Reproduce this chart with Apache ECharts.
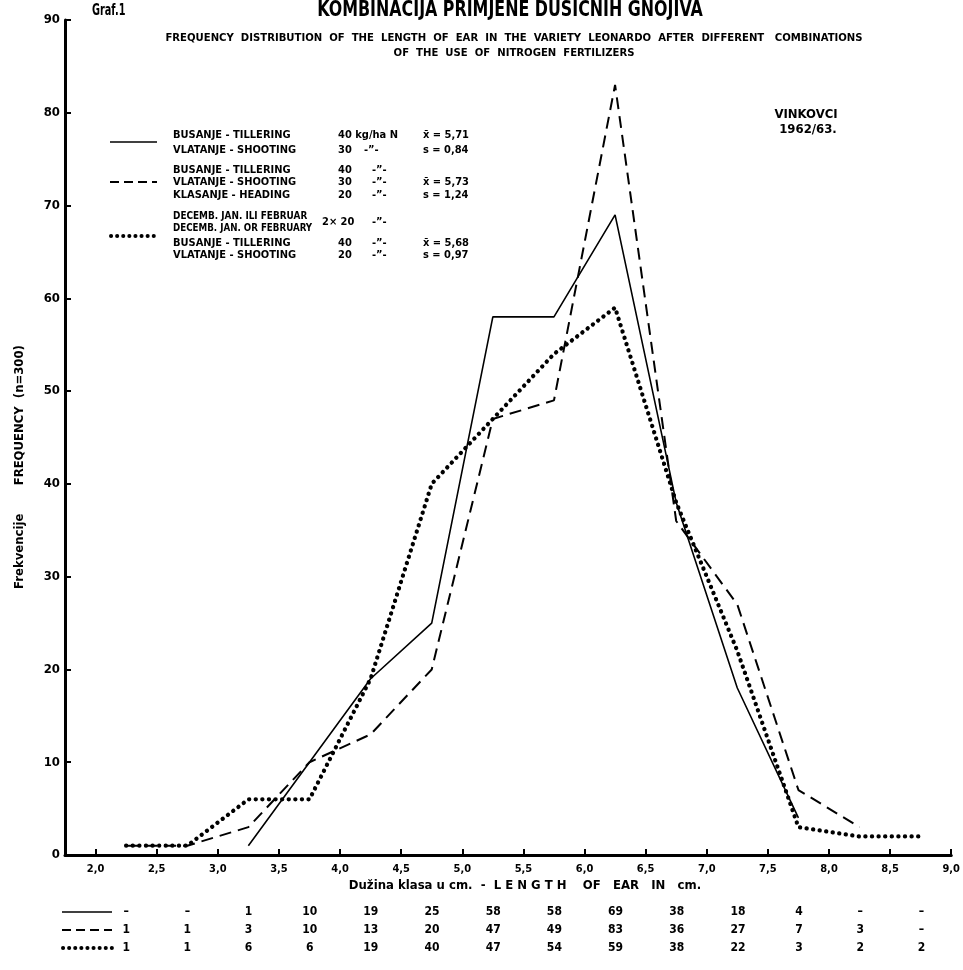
<!DOCTYPE html>
<html>
<head>
<meta charset="utf-8">
<script src="https://cdn.jsdelivr.net/npm/echarts@6/dist/echarts.min.js"></script>
<style>
html,body{margin:0;padding:0;background:#fff;}
#c{width:963px;height:970px;}
</style>
</head>
<body>
<div id="c"></div>
<script>
// ---- data ----
var classMids = [2.25, 2.75, 3.25, 3.75, 4.25, 4.75, 5.25, 5.75, 6.25, 6.75, 7.25, 7.75, 8.25, 8.75];
var xTicks = [2.0, 2.5, 3.0, 3.5, 4.0, 4.5, 5.0, 5.5, 6.0, 6.5, 7.0, 7.5, 8.0, 8.5, 9.0];
var yTicks = [0, 10, 20, 30, 40, 50, 60, 70, 80, 90];
var solidVals  = [null, null, 1, 10, 19, 25, 58, 58, 69, 38, 18, 4, null, null];
var dashedVals = [1, 1, 3, 10, 13, 20, 47, 49, 83, 36, 27, 7, 3, null];
var dottedVals = [1, 1, 6, 6, 19, 40, 47, 54, 59, 38, 22, 3, 2, 2];
var tableRows = ['solid', 'dashed', 'dotted'];

var FN = "'DejaVu Sans Condensed', 'DejaVu Sans', sans-serif";

function pts(vals) {
  return classMids.map(function (m, i) { return [m, vals[i]]; });
}
function tablePts(vals, row) {
  return classMids.map(function (m, i) { return [m, row, vals[i] == null ? '\u2013' : String(vals[i])]; });
}
function fmt(v) { return v.toFixed(1).replace('.', ','); }

var chart = echarts.init(document.getElementById('c'), null, {renderer: 'canvas'});

function txt(x, y, s, size, opts) {
  opts = opts || {};
  return {
    type: 'text', x: x, y: y, rotation: opts.rotation || 0, scaleX: opts.sx || 1, silent: true,
    style: {
      text: s, fill: '#000', font: 'bold ' + size + 'px ' + FN,
      textAlign: opts.align || 'left', textVerticalAlign: 'middle'
    }
  };
}
function seg(x1, x2, y, kind) {
  var st = {stroke: '#000', lineWidth: 1.6};
  if (kind === 'dashed') { st.lineWidth = 2; st.lineDash = [9, 5]; }
  if (kind === 'dotted') { st.lineWidth = 4; st.lineDash = [0.1, 6]; st.lineCap = 'round'; }
  return {type: 'line', silent: true, shape: {x1: x1, y1: y, x2: x2, y2: y}, style: st};
}

var LX = 173, NX = 338, DX = 372, SX = 423, LS = 11;
var graphics = [
  txt(92, 11, 'Graf.1', 15, {sx: 0.72}),
  txt(510, 11, 'KOMBINACIJA PRIMJENE DUSICNIH GNOJIVA', 21, {align: 'center', sx: 0.84}),
  txt(514, 38, 'FREQUENCY  DISTRIBUTION  OF  THE  LENGTH  OF  EAR  IN  THE  VARIETY  LEONARDO  AFTER  DIFFERENT   COMBINATIONS', 11, {align: 'center', sx: 1.02}),
  txt(514, 53, 'OF  THE  USE  OF  NITROGEN  FERTILIZERS', 11, {align: 'center', sx: 1.02}),
  txt(806, 115, 'VINKOVCI', 13, {align: 'center'}),
  txt(808, 130, '1962/63.', 13, {align: 'center'}),
  // legend group 1
  seg(110, 157, 142, 'solid'),
  txt(LX, 135, 'BUSANJE - TILLERING', LS), txt(LX, 150, 'VLATANJE - SHOOTING', LS),
  txt(NX, 135, '40 kg/ha N', LS), txt(NX, 150, '30', LS), txt(DX - 8, 150, '-\u201d-', LS),
  txt(SX, 135, 'x\u0304 = 5,71', LS), txt(SX, 150, 's = 0,84', LS),
  // legend group 2
  seg(110, 157, 182, 'dashed'),
  txt(LX, 170, 'BUSANJE - TILLERING', LS), txt(LX, 182, 'VLATANJE - SHOOTING', LS), txt(LX, 195, 'KLASANJE - HEADING', LS),
  txt(NX, 170, '40', LS), txt(NX, 182, '30', LS), txt(NX, 195, '20', LS),
  txt(DX, 170, '-\u201d-', LS), txt(DX, 182, '-\u201d-', LS), txt(DX, 195, '-\u201d-', LS),
  txt(SX, 182, 'x\u0304 = 5,73', LS), txt(SX, 195, 's = 1,24', LS),
  // legend group 3
  seg(111, 157, 236, 'dotted'),
  txt(LX, 216, 'DECEMB. JAN. ILI FEBRUAR', LS, {sx: 0.9}), txt(LX, 228, 'DECEMB. JAN. OR FEBRUARY', LS, {sx: 0.88}),
  txt(LX, 243, 'BUSANJE - TILLERING', LS), txt(LX, 255, 'VLATANJE - SHOOTING', LS),
  txt(322, 222, '2\u00d7 20', LS), txt(DX, 222, '-\u201d-', LS),
  txt(NX, 243, '40', LS), txt(NX, 255, '20', LS),
  txt(DX, 243, '-\u201d-', LS), txt(DX, 255, '-\u201d-', LS),
  txt(SX, 243, 'x\u0304 = 5,68', LS), txt(SX, 255, 's = 0,97', LS),
  // axis names
  txt(20, 467, 'Frekvencije       FREQUENCY  (n=300)', 12, {align: 'center', rotation: Math.PI / 2, sx: 1.08}),
  txt(525, 886, 'Du\u017eina klasa u cm.  -  L E N G T H    OF   EAR   IN   cm.', 13, {align: 'center'}),
  // table row samples
  seg(62, 112, 912, 'solid'),
  seg(62, 112, 930, 'dashed'),
  seg(63, 112, 948, 'dotted')
];

var option = {
  animation: false,
  backgroundColor: '#fff',
  grid: [
    {left: 65, right: 11, top: 20, bottom: 115, containLabel: false},
    {left: 65, right: 11, top: 903, height: 54, containLabel: false}
  ],
  xAxis: [{
    type: 'value', gridIndex: 0, min: 1.75, max: 9.0,
    axisLine: {lineStyle: {color: '#000', width: 3}},
    axisTick: {show: true, inside: true, length: 6, customValues: xTicks, lineStyle: {color: '#000', width: 2}},
    axisLabel: {customValues: xTicks, formatter: fmt, color: '#000', fontFamily: FN, fontWeight: 'bold', fontSize: 11, margin: 9},
    splitLine: {show: false}
  }, {
    type: 'value', gridIndex: 1, min: 1.75, max: 9.0, show: false
  }],
  yAxis: [{
    type: 'value', gridIndex: 0, min: 0, max: 90, interval: 10,
    axisLine: {show: true, lineStyle: {color: '#000', width: 3}},
    axisTick: {show: true, inside: true, length: 6, lineStyle: {color: '#000', width: 2}},
    axisLabel: {color: '#000', fontFamily: FN, fontWeight: 'bold', fontSize: 13, margin: 5},
    splitLine: {show: false}
  }, {
    type: 'category', gridIndex: 1, data: tableRows, inverse: true, show: false
  }],
  series: [{
    type: 'line', name: 'solid', data: pts(solidVals), symbol: 'none', connectNulls: false,
    lineStyle: {color: '#000', width: 1.6}
  }, {
    type: 'line', name: 'dashed', data: pts(dashedVals), symbol: 'none',
    lineStyle: {color: '#000', width: 2, type: [12, 7]}
  }, {
    type: 'line', name: 'dotted', data: pts(dottedVals), symbol: 'none',
    lineStyle: {color: '#000', width: 4.3, type: [0.1, 6.5], cap: 'round'}
  }].concat([solidVals, dashedVals, dottedVals].map(function (vals, r) {
    return {
      type: 'scatter', xAxisIndex: 1, yAxisIndex: 1, symbolSize: 1,
      itemStyle: {color: '#fff', opacity: 1},
      data: tablePts(vals, r),
      label: {show: true, position: 'inside', formatter: function (p) { return p.value[2]; },
        color: '#000', opacity: 1, textBorderWidth: 0, fontFamily: FN, fontWeight: 'bold', fontSize: 12}
    };
  })),
  graphic: graphics
};
chart.setOption(option);
</script>
</body>
</html>
